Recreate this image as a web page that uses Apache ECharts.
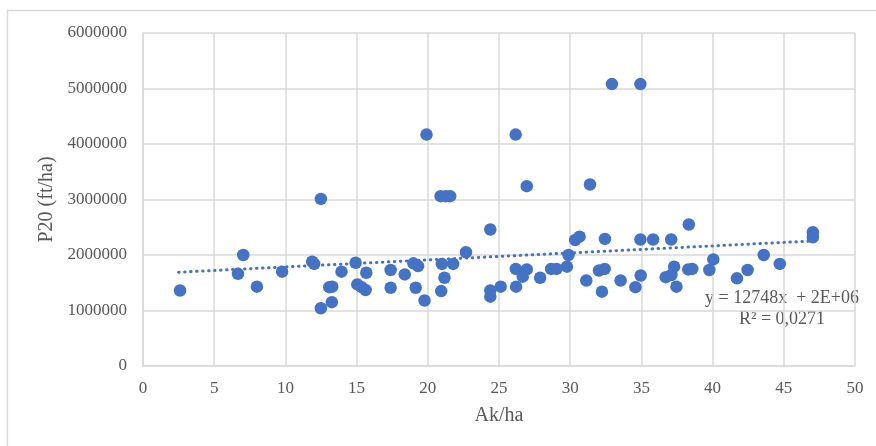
<!DOCTYPE html>
<html>
<head>
<meta charset="utf-8">
<script src="https://cdn.jsdelivr.net/npm/echarts@6/dist/echarts.min.js"></script>
<style>html,body{margin:0;padding:0;background:#fff;}#c{width:876px;height:446px;}</style>
</head>
<body>
<div id="c"></div>
<script>
var akHa = [2.6,6.67,7.04,8.0,9.77,12.49,11.88,12.02,13.08,13.29,12.49,13.26,13.94,14.93,15.68,15.05,15.35,15.63,17.39,17.39,18.38,18.99,19.32,19.15,19.77,19.91,20.9,21.27,21.57,20.99,21.78,21.17,20.94,22.68,24.39,24.39,24.39,25.12,26.17,26.18,26.2,26.95,26.67,26.95,27.89,28.66,29.04,29.77,29.88,30.35,30.66,31.39,31.13,32.02,32.42,32.23,32.44,33.54,32.93,34.93,34.58,34.93,34.95,35.82,36.71,37.11,37.3,37.09,37.46,38.33,38.29,38.57,39.77,40.05,41.71,42.46,43.59,44.72,47.04,47.04];
var p20 = [1360000,1660000,2000000,1430000,1700000,3010000,1880000,1840000,1420000,1430000,1040000,1150000,1700000,1860000,1680000,1470000,1420000,1370000,1730000,1410000,1650000,1850000,1800000,1410000,1180000,4170000,3060000,3060000,3060000,1840000,1840000,1590000,1350000,2050000,2460000,1360000,1250000,1430000,4170000,1750000,1430000,3240000,1610000,1740000,1590000,1750000,1750000,1790000,2000000,2270000,2330000,3270000,1540000,1720000,1750000,1340000,2290000,1540000,5080000,5080000,1420000,2280000,1630000,2280000,1600000,1640000,1790000,2280000,1430000,2550000,1740000,1750000,1730000,1920000,1580000,1730000,2000000,1840000,2410000,2320000];
var trendX = [2.5, 46.8];
var trendY = [1690000, 2250000];
var xTicks = [0,5,10,15,20,25,30,35,40,45,50];
var yTicks = [0,1000000,2000000,3000000,4000000,5000000,6000000];
var eqText = ['y = 12748x  + 2E+06', 'R\u00b2 = 0,0271'];

var pts = akHa.map(function(x,i){return [x,p20[i]];});
var tr = trendX.map(function(x,i){return [x,trendY[i]];});
var font = 'Liberation Serif, Times New Roman, serif';
var chart = echarts.init(document.getElementById('c'), null, {renderer:'canvas'});
chart.setOption({
  animation:false,
  backgroundColor:'#fff',
  grid:{left:143,right:21,top:33,bottom:80,containLabel:false},
  xAxis:{type:'value',min:xTicks[0],max:xTicks[xTicks.length-1],interval:5,
    name:'Ak/ha',nameLocation:'middle',nameGap:40,
    nameTextStyle:{fontFamily:font,fontSize:20,color:'#595959'},
    axisLine:{show:true,lineStyle:{color:'#d9d9d9',width:1.5}},
    axisTick:{show:false},
    axisLabel:{fontFamily:font,fontSize:17,color:'#595959',margin:14,formatter:function(v){return String(v);}},
    splitLine:{show:true,lineStyle:{color:'#d9d9d9',width:1.5}}},
  yAxis:{type:'value',min:yTicks[0],max:yTicks[yTicks.length-1],interval:1000000,
    name:'P20 (ft/ha)',nameLocation:'middle',nameGap:80,nameRotate:90,
    nameTextStyle:{fontFamily:font,fontSize:20,color:'#595959'},
    axisLine:{show:true,lineStyle:{color:'#d9d9d9',width:1.5}},
    axisTick:{show:false},
    axisLabel:{fontFamily:font,fontSize:17,color:'#595959',margin:16,formatter:function(v){return String(v);}},
    splitLine:{show:true,lineStyle:{color:'#d9d9d9',width:1.5}}},
  graphic:[
    {type:'rect',shape:{x:7.5,y:10.5,width:900,height:500},style:{fill:'none',stroke:'#d9d9d9',lineWidth:1.5},silent:true,z:-1},
    {type:'text',x:782,y:298,style:{text:eqText[0],font:'18px '+font,fill:'#595959',align:'center',verticalAlign:'middle'}},
    {type:'text',x:782,y:319,style:{text:eqText[1],font:'18px '+font,fill:'#595959',align:'center',verticalAlign:'middle'}}
  ],
  series:[
    {type:'line',data:tr,symbol:'none',lineStyle:{color:'#4472C4',width:3,type:[0.5,5.5],cap:'round'},z:1},
    {type:'scatter',data:pts,symbol:'circle',symbolSize:12.5,itemStyle:{color:'#4472C4',opacity:1},z:2}
  ]
});
</script>
</body>
</html>
